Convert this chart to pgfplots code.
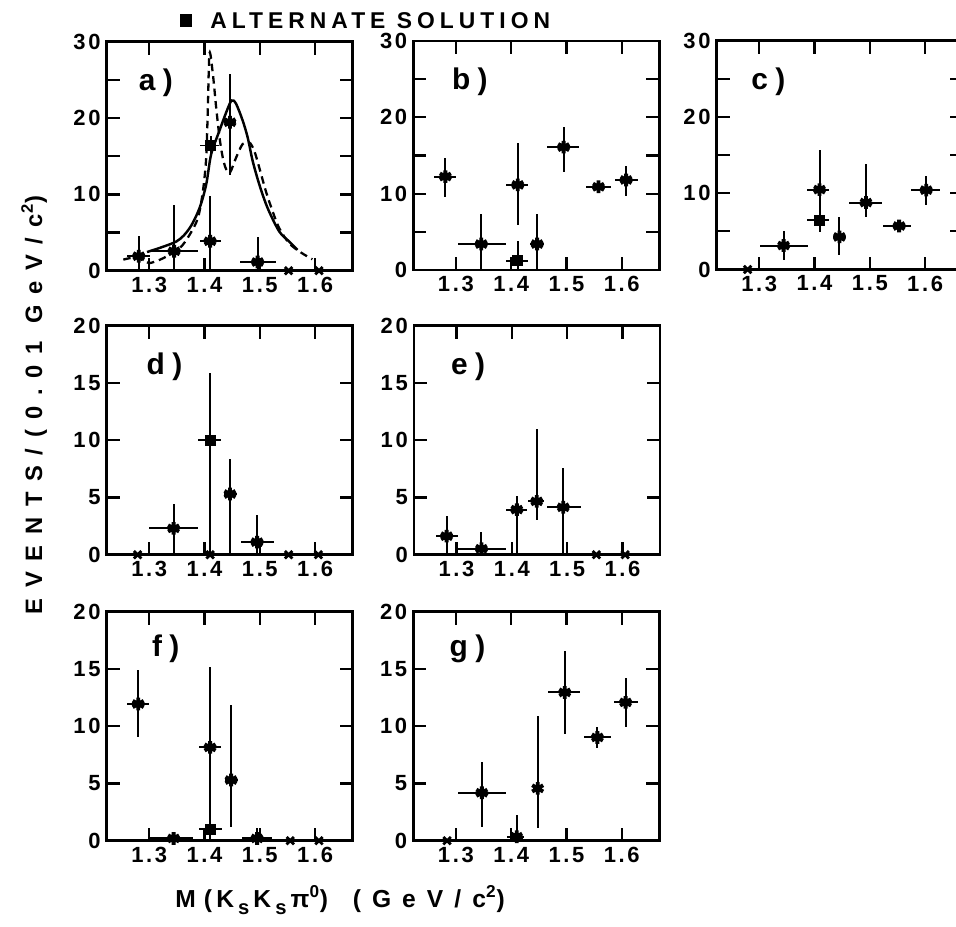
\documentclass[border=0pt]{standalone}
\usepackage{fontspec}
\setmainfont{Liberation Sans}
\newfontfamily\spaced{Liberation Sans}[LetterSpace=25]
\newfontfamily\titlefont{Liberation Sans}[LetterSpace=22]
\newfontfamily\wide{Liberation Sans}[LetterSpace=45]
\newfontfamily\spacedt{Liberation Sans}[LetterSpace=12]
\usepackage{pgfplots}
\usepackage{pgfplotstable}
\pgfplotsset{compat=1.18}

\newcommand\ticks{\spacedt\bfseries\fontsize{12.5}{14}\selectfont}
\newcommand\plab{\spaced\bfseries\fontsize{17}{19}\selectfont}
\newcommand\sub{\raisebox{-0.55ex}{\fontsize{11.5}{13}\selectfont s}}

\pgfplotsset{
  panel/.style={
    scale only axis, width=4.92cm, height=4.58cm,
    anchor=north west, clip=false,
    xmin=1.223, xmax=1.668,
    xtick={1.3,1.4,1.5,1.6}, xticklabels={1.3,1.4,1.5,1.6},
    axis line style={line width=1.6pt},
    major tick length=0.26cm, minor tick length=0.26cm,
    tick style={line width=1.3pt, black},
    tick label style={font=\ticks},
    /pgf/number format/assume math mode=true,
  },
  upper/.style={panel, ymin=0, ymax=30, ytick={0,10,20,30}, minor ytick={5,15,25}},
  lower/.style={panel, ymin=0, ymax=20, ytick={0,5,10,15,20}},
  pts/.style={only marks, mark size=3.6pt, mark options={line width=2.2pt},
    error bars/x dir=both, error bars/x explicit,
    error bars/y dir=both, error bars/y explicit,
    error bars/error mark=none,
    error bars/error bar style={line width=1.1pt}},
  star/.style={pts, mark=asterisk},
  alt/.style={pts, mark=square*, mark size=2.8pt, mark options={line width=0.5pt}},
  zero/.style={only marks, mark=x, mark size=3pt, mark options={line width=1.6pt}},
}

% x y xm xp ym yp
\pgfplotstableread{
x y xm xp ym yp
1.281 1.9 0.021 0.020 1.9 2.6
1.345 2.55 0.041 0.043 2.55 6.05
1.410 3.86 0.019 0.020 3.86 5.9
1.446 19.45 0.010 0.011 6.85 6.35
1.496 1.14 0.031 0.033 1.14 3.26
}\aS
\pgfplotstableread{
x y xm xp ym yp
1.411 16.4 0.020 0.016 1.5 1.3
}\aA
\pgfplotstableread{
x y xm xp ym yp
1.281 12.24 0.021 0.020 2.64 2.46
1.346 3.4 0.043 0.045 3.4 4.0
1.412 11.15 0.021 0.019 5.25 5.45
1.447 3.4 0.013 0.013 3.4 3.9
1.495 16.1 0.030 0.028 3.2 2.7
1.558 10.9 0.023 0.023 0.3 0.3
1.608 11.8 0.021 0.021 2.05 1.8
}\bS
\pgfplotstableread{
x y xm xp ym yp
1.412 1.2 0.021 0.019 1.2 2.6
}\bA
\pgfplotstableread{
x y xm xp ym yp
1.344 3.14 0.043 0.044 1.94 1.92
1.409 10.47 0.022 0.018 4.0 5.23
1.445 4.27 0.012 0.012 2.37 2.63
1.493 8.77 0.030 0.029 1.87 5.03
1.553 5.7 0.030 0.022 0.3 0.3
1.602 10.4 0.027 0.025 2.0 1.85
}\cS
\pgfplotstableread{
x y xm xp ym yp
1.409 6.45 0.022 0.018 1.5 1.0
}\cA
\pgfplotstableread{
x y xm xp ym yp
1.344 2.3 0.045 0.045 2.3 2.1
1.446 5.3 0.010 0.012 5.3 3.1
1.495 1.1 0.029 0.030 1.1 2.37
}\dS
\pgfplotstableread{
x y xm xp ym yp
1.410 10.0 0.021 0.020 10.0 5.9
}\dA
\pgfplotstableread{
x y xm xp ym yp
1.282 1.62 0.020 0.020 1.62 1.78
1.345 0.52 0.043 0.044 0.52 1.45
1.409 3.94 0.020 0.019 3.94 1.16
1.445 4.66 0.015 0.013 1.66 6.34
1.493 4.14 0.030 0.032 4.14 3.41
}\eS
\pgfplotstableread{
x y xm xp ym yp
1.280 11.94 0.020 0.020 2.84 2.96
1.344 0.2 0.044 0.036 0.2 0.0
1.410 8.15 0.020 0.020 8.15 7.05
1.448 5.3 0.011 0.012 4.14 6.55
1.495 0.2 0.028 0.027 0.2 0.9
}\fS
\pgfplotstableread{
x y xm xp ym yp
1.410 1.0 0.020 0.022 0.3 0.3
}\fA
\pgfplotstableread{
x y xm xp ym yp
1.347 4.19 0.043 0.044 2.97 2.71
1.410 0.35 0.017 0.014 0.35 1.89
1.448 4.57 0.008 0.008 3.49 6.33
1.497 12.95 0.030 0.027 3.65 3.65
1.556 9.02 0.025 0.024 0.96 0.93
1.607 12.08 0.021 0.022 2.13 2.12
}\gS

\begin{document}
\begin{tikzpicture}
\useasboundingbox (0,0) rectangle (19.12,-18.52);

% legend line on top
\fill (3.60,-0.27) rectangle (3.84,-0.53);
\node[anchor=base west, inner sep=0, font=\titlefont\bfseries\fontsize{13}{15}\selectfont] at (4.2,-0.56) {ALTERNATE SOLUTION};

% a)
\begin{axis}[upper, at={(2.134cm,-0.834cm)}]
\addplot[line width=1.4pt, smooth] coordinates {
  (1.296,2.45) (1.349,3.83) (1.373,5.58) (1.391,8.22) (1.403,11.3)
  (1.412,15.27) (1.427,18.35) (1.440,20.9) (1.449,22.3) (1.457,21.87)
  (1.469,19.66) (1.478,17.46) (1.487,14.39) (1.499,11.31) (1.514,8.22)
  (1.535,5.15) (1.553,3.83) (1.568,2.73)
};
\addplot[line width=1.3pt, dash pattern=on 0.15cm off 0.1cm, smooth] coordinates {
  (1.253,1.45) (1.275,1.75) (1.290,1.3) (1.301,1.0) (1.325,1.63)
  (1.355,2.95) (1.373,4.71) (1.388,6.9) (1.397,10.4) (1.403,14.8)
  (1.406,21.4) (1.409,28.5) (1.415,25.8) (1.421,21.4) (1.427,17.5)
  (1.433,14.8) (1.439,13.3) (1.446,12.85) (1.457,14.8) (1.469,16.6)
  (1.481,16.8) (1.490,15.7) (1.499,13.5) (1.511,10.4) (1.523,7.8)
  (1.535,5.58) (1.553,3.6) (1.574,2.4) (1.595,1.5)
};
\addplot[star] table[x=x, y=y, x error minus=xm, x error plus=xp, y error minus=ym, y error plus=yp] {\aS};
\addplot[alt] table[x=x, y=y, x error minus=xm, x error plus=xp, y error minus=ym, y error plus=yp] {\aA};
\addplot[zero] coordinates {(1.552,0) (1.607,0)};
\node[font=\plab] at (rel axis cs:0.20,0.82) {a)};
\end{axis}

% b)
\begin{axis}[upper, at={(8.266cm,-0.82cm)}]
\addplot[star] table[x=x, y=y, x error minus=xm, x error plus=xp, y error minus=ym, y error plus=yp] {\bS};
\addplot[alt] table[x=x, y=y, x error minus=xm, x error plus=xp, y error minus=ym, y error plus=yp] {\bA};
\node[font=\plab] at (rel axis cs:0.23,0.82) {b)};
\end{axis}

% c)
\begin{axis}[upper, at={(14.334cm,-0.81cm)}]
\addplot[star] table[x=x, y=y, x error minus=xm, x error plus=xp, y error minus=ym, y error plus=yp] {\cS};
\addplot[alt] table[x=x, y=y, x error minus=xm, x error plus=xp, y error minus=ym, y error plus=yp] {\cA};
\addplot[zero] coordinates {(1.279,0)};
\node[font=\plab] at (rel axis cs:0.21,0.82) {c)};
\end{axis}

% d)
\begin{axis}[lower, at={(2.134cm,-6.514cm)}]
\addplot[star] table[x=x, y=y, x error minus=xm, x error plus=xp, y error minus=ym, y error plus=yp] {\dS};
\addplot[alt] table[x=x, y=y, x error minus=xm, x error plus=xp, y error minus=ym, y error plus=yp] {\dA};
\addplot[zero] coordinates {(1.279,0) (1.410,0) (1.552,0) (1.606,0)};
\node[font=\plab] at (rel axis cs:0.235,0.82) {d)};
\end{axis}

% e)
\begin{axis}[lower, at={(8.28cm,-6.514cm)}]
\addplot[star] table[x=x, y=y, x error minus=xm, x error plus=xp, y error minus=ym, y error plus=yp] {\eS};
\addplot[zero] coordinates {(1.553,0) (1.605,0)};
\node[font=\plab] at (rel axis cs:0.22,0.82) {e)};
\end{axis}

% f)
\begin{axis}[lower, at={(2.134cm,-12.234cm)}]
\addplot[star] table[x=x, y=y, x error minus=xm, x error plus=xp, y error minus=ym, y error plus=yp] {\fS};
\addplot[alt] table[x=x, y=y, x error minus=xm, x error plus=xp, y error minus=ym, y error plus=yp] {\fA};
\addplot[zero] coordinates {(1.555,0) (1.607,0)};
\node[font=\plab] at (rel axis cs:0.24,0.84) {f)};
\end{axis}

% g)
\begin{axis}[lower, at={(8.266cm,-12.234cm)}]
\addplot[star] table[x=x, y=y, x error minus=xm, x error plus=xp, y error minus=ym, y error plus=yp] {\gS};
\addplot[zero] coordinates {(1.284,0)};
\node[font=\plab] at (rel axis cs:0.22,0.84) {g)};
\end{axis}

% axis titles
\node[rotate=90, anchor=base, inner sep=0, font=\wide\bfseries\fontsize{13.5}{15}\selectfont] at (0.84,-8.1) {EVENTS/(0.01 GeV/c\textsuperscript{2})};
\node[anchor=base, inner sep=0, font=\wide\bfseries\fontsize{14}{16}\selectfont] at (6.8,-18.14) {M\,\,(\,K\,\sub\,K\,\sub\,π\textsuperscript{0})\quad(GeV/c\textsuperscript{2})};
\end{tikzpicture}
\end{document}
